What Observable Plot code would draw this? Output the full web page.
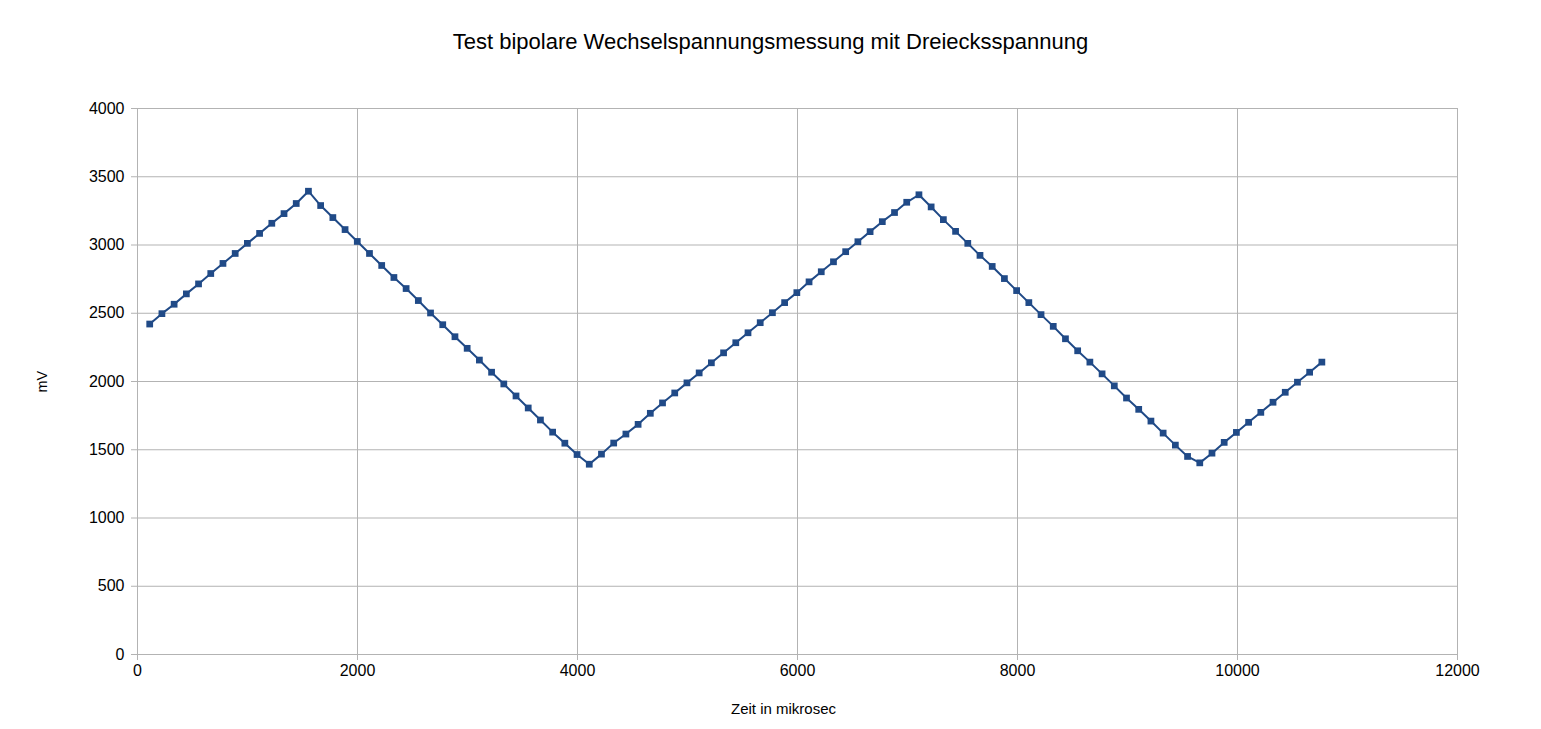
<!DOCTYPE html>
<html>
<head>
<meta charset="utf-8">
<script src="https://cdn.jsdelivr.net/npm/d3@7"></script>
<script src="https://cdn.jsdelivr.net/npm/@observablehq/plot@0.6"></script>
<style>
  body { margin: 0; background: #fff; font-family: "Liberation Sans", Arial, sans-serif; }
  #title { height: 80px; line-height: 84px; text-align: center; font-size: 22px; color: #000; }
  svg { display: block; }
</style>
</head>
<body>
<div id="title">Test bipolare Wechselspannungsmessung mit Dreiecksspannung</div>
<div id="chart"></div>
<script>
const timeUs = [111,222,333,444,555,666,777,888,999,1110,1221,1332,1443,1554,1665,1776,1887,1998,2109,2220,2331,2442,2553,2664,2775,2886,2997,3108,3219,3330,3441,3552,3663,3774,3885,3996,4107,4218,4329,4440,4551,4662,4773,4884,4995,5106,5217,5328,5439,5550,5661,5772,5883,5994,6105,6216,6327,6438,6549,6660,6771,6882,6993,7104,7215,7326,7437,7548,7659,7770,7881,7992,8103,8214,8325,8436,8547,8658,8769,8880,8991,9102,9213,9324,9435,9546,9657,9768,9879,9990,10101,10212,10323,10434,10545,10656,10767];
const millivolts = [2421,2497,2566,2642,2715,2791,2865,2938,3012,3085,3159,3230,3304,3394,3289,3201,3113,3026,2938,2850,2762,2681,2593,2502,2416,2328,2243,2157,2068,1982,1894,1806,1718,1629,1548,1465,1394,1468,1549,1615,1686,1767,1843,1916,1990,2063,2137,2210,2284,2357,2431,2504,2578,2651,2730,2804,2877,2951,3024,3098,3171,3238,3313,3368,3279,3186,3100,3012,2924,2843,2754,2666,2578,2490,2404,2313,2225,2142,2056,1968,1879,1796,1710,1622,1534,1451,1404,1475,1554,1627,1701,1774,1848,1921,1995,2068,2142];
const xTicks = [0,2000,4000,6000,8000,10000,12000];
const yTicks = [0,500,1000,1500,2000,2500,3000,3500,4000];
const xLabel = "Zeit in mikrosec";
const yLabel = "mV";

const data = timeUs.map((t, i) => ({t, v: millivolts[i]}));
const lineColor = "#204a87";
const gridColor = "#b3b3b3";

const chart = Plot.plot({
  width: 1541,
  height: 649,
  marginLeft: 137,
  marginRight: 84,
  marginTop: 28,
  marginBottom: 75,
  style: {fontFamily: "'Liberation Sans', Arial, sans-serif", fontSize: "16px", color: "#000", background: "#fff"},
  x: {domain: [0, 12000], ticks: xTicks, label: null},
  y: {domain: [0, 4000], ticks: yTicks, label: null},
  marks: [
    Plot.gridX(xTicks, {stroke: gridColor, strokeOpacity: 1}),
    Plot.gridY(yTicks, {stroke: gridColor, strokeOpacity: 1}),
    Plot.axisX(xTicks, {tickSize: 6, stroke: gridColor, fill: "#000", tickPadding: 4, tickFormat: d => String(d), fontSize: 16, label: null}),
    Plot.axisY(yTicks, {tickSize: 6, stroke: gridColor, fill: "#000", tickPadding: 7, tickFormat: d => String(d), fontSize: 16, label: null}),
    Plot.text([xLabel], {text: d => d, frameAnchor: "bottom", dy: 59, dx: -14, fontSize: 15, fill: "#000"}),
    Plot.text([yLabel], {text: d => d, frameAnchor: "left", dx: -95, dy: 11, rotate: -90, fontSize: 14.5, fill: "#000"}),
    Plot.line(data, {x: "t", y: "v", stroke: lineColor, strokeWidth: 2}),
    Plot.dot(data, {x: "t", y: "v", symbol: "square", r: 3.8, fill: lineColor, stroke: null})
  ]
});
document.getElementById("chart").appendChild(chart);
</script>
</body>
</html>
